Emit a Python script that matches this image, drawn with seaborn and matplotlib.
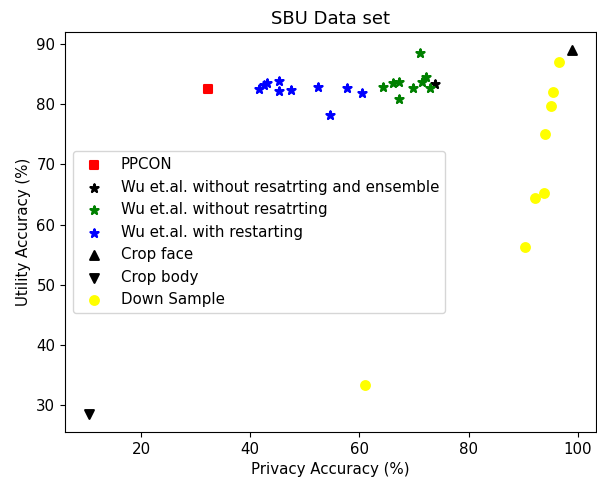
import numpy as np
import pandas as pd
import matplotlib
import seaborn as sns
import matplotlib.pyplot as plt

matplotlib.use('Agg')
matplotlib.rcParams['font.size'] = 10.8

# values
ppcon_x = [32.3]
ppcon_y = [82.5]

wu_ens_x = [73.8]
wu_ens_y = [83.3]

wu_norestart_x = [71.2, 64.3, 66.1, 67.2, 67.2, 69.9, 71.5, 72.3, 72.9]
wu_norestart_y = [88.4, 82.8, 83.5, 83.6, 80.9, 82.7, 83.6, 84.4, 82.7]

wu_restart_x = [41.7, 42.5, 43.1, 45.2, 45.2, 47.5, 52.5, 57.8, 60.5, 54.7]
wu_restart_y = [82.5, 83.1, 83.5, 83.8, 82.1, 82.4, 82.9, 82.7, 81.9, 78.1]

crop_face_x = [98.9]
crop_face_y = [88.9]

crop_body_x = [10.5]
crop_body_y = [28.6]

down_x = [96.5, 95.4, 95.2, 94.1, 93.9, 92.1, 90.4, 61.0]
down_y = [86.95, 82.0, 79.6, 75.0, 65.3, 64.35, 56.3, 33.4]

series = [
    (ppcon_x, ppcon_y, 's', 'red', 'PPCON'),
    (wu_ens_x, wu_ens_y, '*', 'black', 'Wu et.al. without resatrting and ensemble'),
    (wu_norestart_x, wu_norestart_y, '*', 'green', 'Wu et.al. without resatrting'),
    (wu_restart_x, wu_restart_y, '*', 'blue', 'Wu et.al. with restarting'),
    (crop_face_x, crop_face_y, '^', 'black', 'Crop face'),
    (crop_body_x, crop_body_y, 'v', 'black', 'Crop body'),
    (down_x, down_y, 'o', 'yellow', 'Down Sample'),
]

fig, ax = plt.subplots(figsize=(5.97, 4.8), dpi=100)
fig.subplots_adjust(left=0.109, right=0.998, top=0.933, bottom=0.1)

for xs, ys, m, c, lab in series:
    sns.scatterplot(x=xs, y=ys, marker=m, color=c, label=lab, s=40,
                    edgecolor='face', linewidth=1.5, ax=ax, legend=False)

ax.legend(loc='center left')
ax.set_title('SBU Data set', fontsize=13)
ax.set_xlabel('Privacy Accuracy (%)')
ax.set_ylabel('Utility Accuracy (%)')

plt.savefig('out.png', dpi=100)
